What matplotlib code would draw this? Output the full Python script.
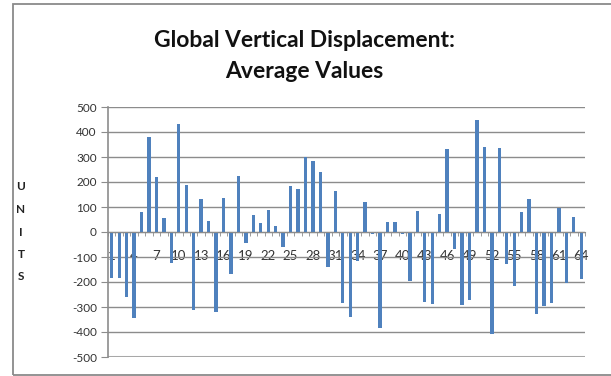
import matplotlib
matplotlib.use("Agg")
import matplotlib.pyplot as plt
import numpy as np

categories = list(range(1, 65))
values = [
    -185, -185, -260, -345, 80, 380, 222, 55, -123, 432,
    188, -312, 131, 45, -319, 135, -168, 224, -43, 67,
    35, 88, 24, -61, 184, 172, 300, 285, 239, -141,
    163, -285, -338, -116, 121, -8, -385, 39, 39, -8,
    -195, 85, -279, -288, 71, 334, -67, -292, -272, 447,
    342, -408, 335, -129, -216, 80, 131, -328, -296, -283,
    95, -203, 59, -189,
]
xtick_labels = [str(c) for c in categories[::3]]
yticks = list(range(-500, 501, 100))
title = "Global Vertical Displacement:\nAverage Values"
ylabel_letters = ["U", "N", "I", "T", "S"]

plt.rcParams['font.family'] = ['Lato', 'DejaVu Sans']

W, H = 611, 376
fig = plt.figure(figsize=(W / 100, H / 100), dpi=100)
fig.patch.set_facecolor("white")

# outer border
fig.add_artist(plt.Rectangle((13 / W, 1 - 375 / H), 1.2, (375 - 4) / H,
                             transform=fig.transFigure, fill=False,
                             edgecolor="#8a8a8a", linewidth=1.3))

ax = fig.add_axes([108 / W, 1 - 357 / H, (585 - 108) / W, (357 - 107) / H])
ax.bar(categories, values, width=0.45, color="#4F81BD", zorder=2)

ax.set_xlim(0.5, 64.5)
ax.set_ylim(-500, 500)
ax.set_yticks(yticks)
ax.set_yticklabels([str(v) for v in yticks])
ax.yaxis.grid(True, color="#8c8c8c", linewidth=1.0, zorder=0)
ax.set_axisbelow(True)

for s in ["top", "right"]:
    ax.spines[s].set_visible(False)
ax.spines["bottom"].set_position(("data", 0))
ax.spines["bottom"].set_color("#8c8c8c")
ax.spines["left"].set_color("#8c8c8c")
ax.spines["left"].set_linewidth(1.2)

ax.set_xticks(categories[::3])
ax.set_xticklabels(xtick_labels)
ax.set_xticks(np.arange(0.5, 65, 1), minor=True)
ax.tick_params(axis="x", which="major", length=0, pad=13, labelsize=9.5,
               labelcolor="#333333")
ax.tick_params(axis="x", which="minor", length=3, color="#8c8c8c",
               direction="out")
ax.tick_params(axis="y", length=5, color="#8c8c8c", pad=3, labelsize=8.5,
               labelcolor="#333333")

# bottom floor line
ax.axhline(-500, color="#a8a8a8", linewidth=2.2, zorder=1)

fig.text(304 / W, 1 - 56 / H, title, ha="center", va="center",
         fontsize=16.5, fontweight="bold", linespacing=1.6, color="#111111")

for k, letter in enumerate(ylabel_letters):
    fig.text(21 / W, 1 - (187 + 22.5 * k) / H, letter, ha="center",
             va="center", fontsize=8.5, fontweight="bold", color="#222222")

fig.savefig("out.png", dpi=100)
